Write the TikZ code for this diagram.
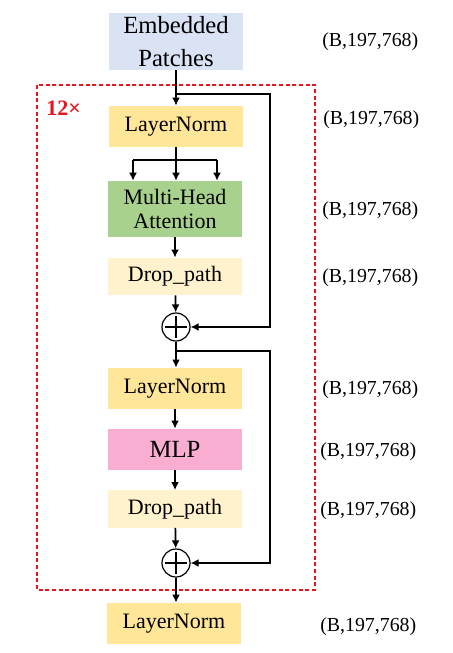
\documentclass[tikz,border=0pt]{standalone}
\usepackage{fontspec}
\setmainfont{Liberation Serif}
\usepackage{tikz}
\usetikzlibrary{arrows.meta,positioning,calc}
\definecolor{embblue}{HTML}{DAE3F3}
\definecolor{normyellow}{HTML}{FFE699}
\definecolor{attgreen}{HTML}{A9D18E}
\definecolor{droplight}{HTML}{FFF2CC}
\definecolor{mlppink}{HTML}{F9ADD1}
\definecolor{loopred}{HTML}{E8141C}
\tikzset{
  blk/.style={draw=none, inner sep=0pt, align=center, minimum width=100pt, font=\fontsize{16.5}{20}\selectfont},
  blkemb/.style={blk, fill=embblue, minimum height=43pt, font=\fontsize{18.5}{25}\selectfont},
  blknorm/.style={blk, fill=normyellow, minimum height=31pt},
  blkatt/.style={blk, fill=attgreen, minimum height=42pt, font=\fontsize{16.5}{18}\selectfont},
  blkdrop/.style={blk, fill=droplight, minimum height=28pt},
  blkmlp/.style={blk, fill=mlppink, minimum height=31pt, font=\fontsize{18.5}{22}\selectfont},
  addop/.style={circle, draw, line width=.9pt, minimum size=21pt, inner sep=0pt,
    path picture={\draw[line width=.9pt] ($(path picture bounding box.north)+(0,-2.5pt)$) -- ($(path picture bounding box.south)+(0,2.5pt)$)
      ($(path picture bounding box.west)+(2.5pt,0)$) -- ($(path picture bounding box.east)+(-2.5pt,0)$);}},
  ln/.style={line width=1.3pt, draw=black},
  ar/.style={ln, -{Latex[length=6pt,width=6pt]}},
  shp/.style={font=\fontsize{14.9}{18}\selectfont, anchor=west, inner sep=0pt},
}
\begin{document}
\begin{tikzpicture}[x=0.75pt, y=-0.75pt]
  \useasboundingbox (0,0) rectangle (453,653);
  % repeated block
  \draw[loopred, line width=.8pt, dash pattern=on 3pt off 2pt] (37,85) rectangle (315,590);
  \node[text=loopred, font=\fontsize{16.5}{18}\selectfont\bfseries, anchor=west, inner sep=0pt] (times) at (46,108) {12×};

  \node[blkemb]  (emb)   at (176,41.5) {Embedded\\Patches};
  \node[blknorm] (ln1)   at (176,126.5) {LayerNorm};
  \node[blkatt]  (mha)   at (175,209)  {Multi-Head\\Attention};
  \node[blkdrop] (drop1) at (175,276.5) {Drop\_path};
  \node[addop]   (add1)  at (176,327) {};
  \node[blknorm] (ln2)   at (175,388.5) {LayerNorm};
  \node[blkmlp]  (mlp)   at (175,449.5) {MLP};
  \node[blkdrop] (drop2) at (175,509) {Drop\_path};
  \node[addop]   (add2)  at (176,563) {};
  \node[blknorm] (ln3)   at (174,623.5) {LayerNorm};

  % shapes
  \foreach \y/\x [count=\k] in {42/322,120/323,211/322,278/322,390/322,452/320,511/320,627/320}{
    \node[shp] (shape\k) at (\x,\y) {(B,197,768)};
  }

  % main flow
  \coordinate (skip1) at (176,94);
  \coordinate (fanL) at (133,160);
  \coordinate (fanR) at (217,160);
  \coordinate (skip2) at (176,351);
  \draw[ar] (emb) -- (ln1);
  \draw[ln] (ln1) -- (ln1|-fanL);
  \draw[ln] (fanL) -- (fanR);
  \foreach \f in {fanL,fanR}{
    \draw[ar] (\f) -- (\f|-mha.north);
  }
  \draw[ar] (ln1|-fanL) -- (ln1|-mha.north);
  \draw[ar] (mha) -- (mha|-drop1.north);
  \draw[ar] (drop1) -- (add1);
  \draw[ar] (add1) -- (add1|-ln2.north);
  \draw[ar] (ln2) -- (ln2|-mlp.north);
  \draw[ar] (mlp) -- (mlp|-drop2.north);
  \draw[ar] (drop2) -- (add2);
  \draw[ar] (add2) -- (add2|-ln3.north);

  % residuals
  \draw[ar] (skip1) -- (270,94) |- (add1);
  \draw[ar] (skip2) -- (270,351) |- (add2);
\end{tikzpicture}
\end{document}
